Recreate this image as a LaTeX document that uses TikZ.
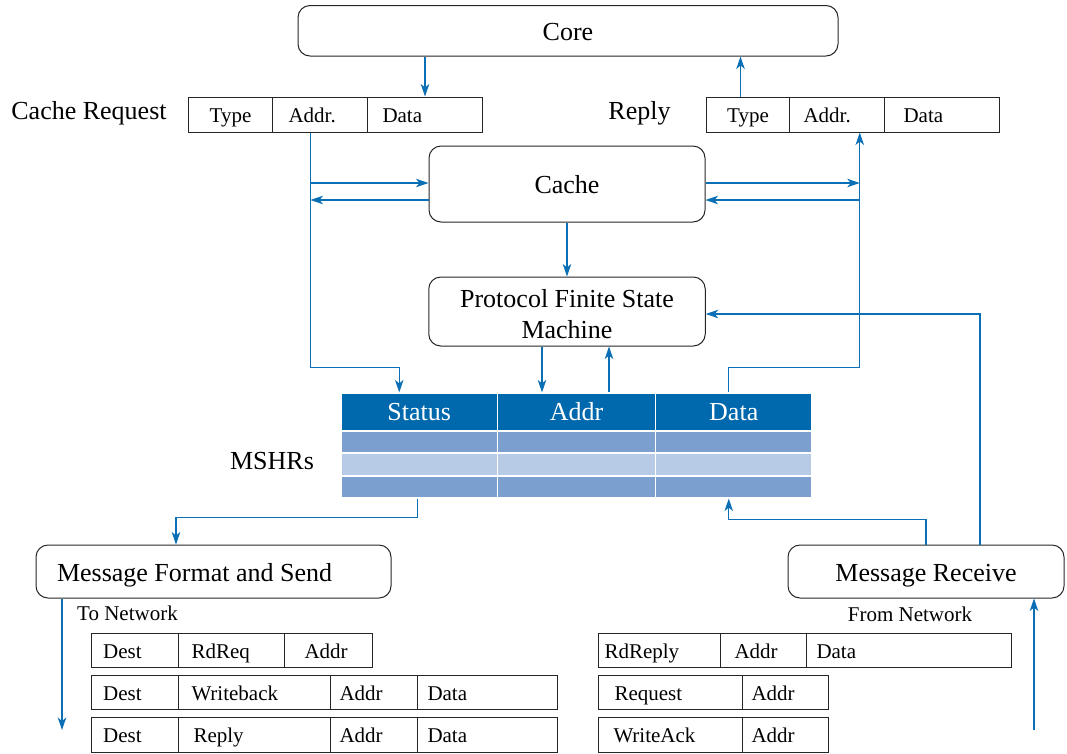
\documentclass[tikz,border=0pt]{standalone}
\usepackage{fontspec}
\setmainfont{Liberation Serif}
\usetikzlibrary{arrows.meta,calc}
\definecolor{lnk}{HTML}{0B6FB5}
\definecolor{hdr}{HTML}{0068AD}
\definecolor{rowm}{HTML}{7B9FCE}
\definecolor{rowl}{HTML}{B7CBE6}
\newcommand\bigtxt{\fontsize{26}{31}\selectfont}
\newcommand\smtxt{\fontsize{21}{25}\selectfont}
\tikzset{
  rbox/.style={draw=black!85, line width=1pt, rounded corners=12pt, inner sep=0pt, font=\bigtxt, align=center, text height=22pt, text depth=3pt},
  cell/.style={draw=black!85, line width=1pt, inner ysep=0pt, minimum height=34pt, text height=17pt, text depth=1pt, font=\smtxt, align=flush left, anchor=west},
  mcell/.style={draw=white, line width=1.2pt, inner sep=0pt, font=\bigtxt, text=white},
  conn/.style={draw=lnk, line width=1.2pt, -{Stealth[length=12.5pt,width=8.5pt,inset=3.5pt]}},
  lbl/.style={inner sep=0pt},
}
\begin{document}
\begin{tikzpicture}[x=1pt,y=-1pt]
\useasboundingbox (0,0) rectangle (1067,753);
% top boxes
\node[rbox, minimum width=540pt, minimum height=50.5pt] (core) at (568,30.75) {Core};
\node[rbox, minimum width=276pt, minimum height=76pt] (cache) at (567,184) {Cache};
\node[rbox, minimum width=276.5pt, minimum height=69pt, text height=55pt, text depth=2pt] (pfsm) at (567,311.5) {Protocol Finite State\\Machine};
% cache request
\node[lbl, font=\bigtxt] (crlab) at (89,113.5) {Cache Request};
\node[cell, minimum height=35pt, inner xsep=0pt, text width=84pt, align=center] (crT) at (188,114.5) {Type};
\node[cell, minimum height=35pt, inner xsep=16pt, text width=63pt] (crA) at (272,114.5) {Addr.};
\node[cell, minimum height=35pt, inner xsep=15pt, text width=85pt] (crD) at (367,114.5) {Data};
% reply
\node[lbl, font=\bigtxt] (rplab) at (639.5,113.5) {Reply};
\node[cell, minimum height=35pt, inner xsep=0pt, text width=83pt, align=center] (rpT) at (706,114.5) {Type};
\node[cell, minimum height=35pt, inner xsep=14pt, text width=66.5pt] (rpA) at (789,114.5) {Addr.};
\node[cell, minimum height=35pt, inner xsep=19.5pt, text width=76.5pt] (rpD) at (883.5,114.5) {Data};
% MSHR table
\node[mcell, fill=hdr, minimum width=156.5pt, minimum height=38pt] (hS) at (419.25,412) {Status};
\node[mcell, fill=hdr, minimum width=158pt, minimum height=38pt] (hA) at (576.5,412) {Addr};
\node[mcell, fill=hdr, minimum width=156.5pt, minimum height=38pt] (hD) at (733.75,412) {Data};
\foreach \r/\yc/\h/\c in {1/442/22/rowm, 2/464.5/23/rowl, 3/487/22/rowm}{
  \foreach \k/\xc/\w in {S/419.25/156.5, A/576.5/158, D/733.75/156.5}{
    \node[mcell, fill=\c, minimum width=\w pt, minimum height=\h pt] (r\r\k) at (\xc,\yc) {};
  }
}
\node[lbl, font=\bigtxt] (mshr) at (272,461) {MSHRs};
% message boxes
\node[rbox, minimum height=53pt, inner xsep=21pt, text width=313pt, align=flush left] (msend) at (213.5,571.5) {Message Format and Send};
\node[rbox, minimum width=276pt, minimum height=53pt] (mrecv) at (926,571.5) {Message Receive};
\node[lbl, font=\smtxt, anchor=west] (tonet) at (77,613) {To Network};
\node[lbl, font=\smtxt] (fromnet) at (910,614) {From Network};
% outgoing messages
\node[cell, inner xsep=12pt, text width=63.3pt] (o1a) at (90.7,650) {Dest};
\node[cell, inner xsep=13pt, text width=80pt] (o1b) at (178,650) {RdReq};
\node[cell, inner xsep=20pt, text width=48pt] (o1c) at (284,650) {Addr};
\node[cell, inner xsep=12pt, text width=63.3pt] (o2a) at (90.7,692) {Dest};
\node[cell, inner xsep=13pt, text width=126pt] (o2b) at (178,692) {Writeback};
\node[cell, inner xsep=9pt, text width=69pt] (o2c) at (330,692) {Addr};
\node[cell, inner xsep=10pt, text width=120pt] (o2d) at (417,692) {Data};
\node[cell, minimum height=35pt, inner xsep=12pt, text width=63.3pt] (o3a) at (90.7,734.5) {Dest};
\node[cell, minimum height=35pt, inner xsep=15pt, text width=122pt] (o3b) at (178,734.5) {Reply};
\node[cell, minimum height=35pt, inner xsep=9pt, text width=69pt] (o3c) at (330,734.5) {Addr};
\node[cell, minimum height=35pt, inner xsep=10pt, text width=120pt] (o3d) at (417,734.5) {Data};
% incoming messages
\node[cell, inner xsep=6pt, text width=110pt] (i1a) at (598,650) {RdReply};
\node[cell, inner xsep=14pt, text width=58pt] (i1b) at (720,650) {Addr};
\node[cell, inner xsep=10pt, text width=185pt] (i1c) at (806,650) {Data};
\node[cell, inner xsep=16pt, text width=112pt] (i2a) at (598,692) {Request};
\node[cell, inner xsep=9pt, text width=68pt] (i2b) at (742,692) {Addr};
\node[cell, minimum height=35pt, inner xsep=15pt, text width=114pt] (i3a) at (598,734.5) {WriteAck};
\node[cell, minimum height=35pt, inner xsep=9pt, text width=68pt] (i3b) at (742,734.5) {Addr};
% helper coordinates
\coordinate (ya) at (0,183);
\coordinate (yb) at (0,200);
\coordinate (rpup) at ([xshift=-7.5pt]rpT.north);
\coordinate (crdown) at ([xshift=-9.5pt]crA.south);
\coordinate (rpin) at ([xshift=23pt]rpA.south);
\coordinate (sIn) at ([xshift=-20pt]hS.north);
\coordinate (dOut) at ([xshift=-5pt]hD.north);
\coordinate (pd) at ([xshift=-34.5pt]hA.north);
\coordinate (pu) at ([xshift=32.5pt]hA.north);
\coordinate (mr1) at ([xshift=54pt]mrecv.north);
\coordinate (dIn) at ([xshift=-5pt]r3D.south);
\coordinate (sOut) at ([xshift=-2pt]r3S.south);
\coordinate (mIn) at ([xshift=-37.5pt]msend.north);
\coordinate (mOut) at ([xshift=-151.5pt]msend.south);
\coordinate (netout) at (62,730);
\coordinate (netin) at (1034,730);
% connectors
\draw[conn] (core.south -| crD.north) -- (crD.north);
\draw[conn] (rpup) -- (rpup |- core.south);
\draw[conn] (crdown) |- ([yshift=25pt]sIn) -- (sIn);
\draw[conn] (crdown |- ya) -- (cache.west |- ya);
\draw[conn] (cache.west |- yb) -- (crdown |- yb);
\draw[conn] (cache.east |- ya) -- (rpin |- ya);
\draw[conn] (rpin |- yb) -- (cache.east |- yb);
\draw[conn] (dOut) -- ++(0,-25) -| (rpin);
\draw[conn] (cache.south) -- (pfsm.north);
\draw[conn] (pd |- pfsm.south) -- (pd);
\draw[conn] (pu) -- (pu |- pfsm.south);
\draw[conn] (mr1) |- ([yshift=-2.5pt]pfsm.east);
\draw[conn] (mrecv.north) -- ++(0,-25) -| (dIn);
\draw[conn] (sOut) -- ++(0,19) -| (mIn);
\draw[conn] (mOut) -- (netout);
\draw[conn] (netin) -- (netin |- mrecv.south);
\end{tikzpicture}
\end{document}
